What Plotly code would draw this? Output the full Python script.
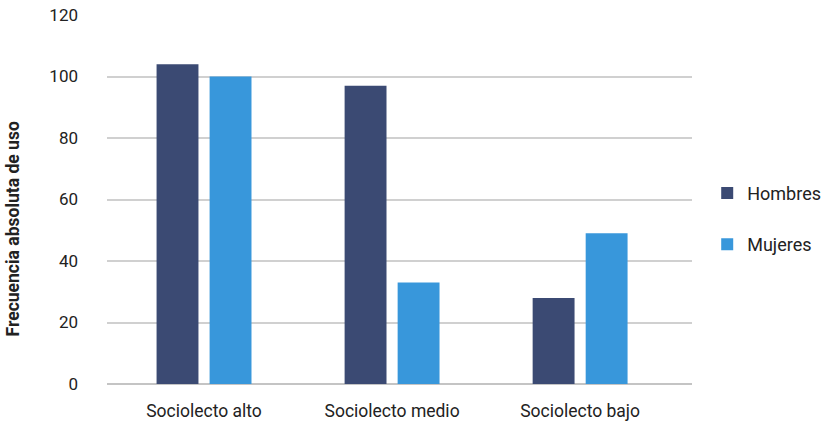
import plotly.graph_objects as go

categories = ["Sociolecto alto", "Sociolecto medio", "Sociolecto bajo"]
hombres = [104, 97, 28]
mujeres = [100, 33, 49]
y_ticks = [0, 20, 40, 60, 80, 100, 120]
y_title = "Frecuencia absoluta de uso"

fig = go.Figure()
fig.add_trace(go.Bar(name="Hombres", x=categories, y=hombres, marker_color="#3B4A73",
                     marker_line_width=0, legendgroup="h"))
fig.add_trace(go.Bar(name="Mujeres", x=categories, y=mujeres, marker_color="#3897DB",
                     marker_line_width=0, legendgroup="m"))

fig.update_layout(
    width=830, height=422,
    margin=dict(l=107, r=138, t=15, b=38, autoexpand=False),
    paper_bgcolor="white", plot_bgcolor="white",
    font=dict(family="Roboto, sans-serif", size=17, color="#222"),
    barmode="group", bargap=0.436, bargroupgap=0.21,
    showlegend=True,
    legend=dict(x=1.026, y=0.448, yanchor="middle", xanchor="left",
                traceorder="grouped", tracegroupgap=25,
                font=dict(size=18, color="#222"), itemwidth=30),
    annotations=[dict(text="<b>" + y_title + "</b>", textangle=-90, xref="paper", yref="paper",
                      x=-0.16, y=0.42, xanchor="center", yanchor="middle", showarrow=False,
                      font=dict(size=17.5, color="#222"))],
)
fig.update_yaxes(range=[0, 120], tickvals=y_ticks, showgrid=True, gridcolor="#D0D0D0",
                 gridwidth=1.6, zeroline=True, zerolinecolor="#C4C4C4", zerolinewidth=1.6,
                 ticklabelstandoff=28, automargin=False, tickfont=dict(size=17))
fig.update_xaxes(range=[-0.516, 2.595], showgrid=False, ticklabelstandoff=14, showline=False,
                 automargin=False, tickfont=dict(size=17.5))

fig.write_html("out.html", config={"displayModeBar": False},
               post_script="document.body.style.margin='0';document.body.style.overflow='hidden';")
